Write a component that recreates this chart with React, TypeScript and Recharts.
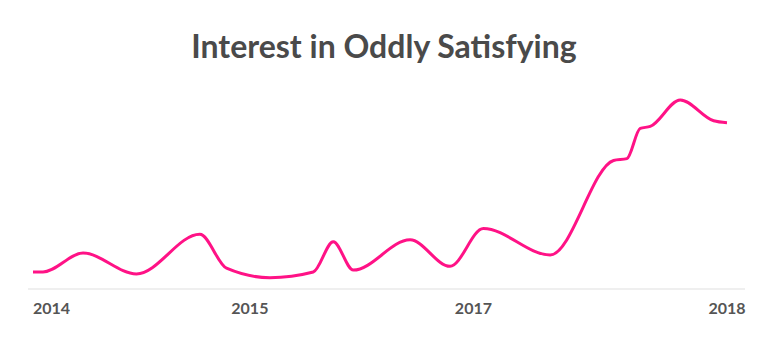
import React from "react";
import { LineChart, Line, XAxis, YAxis } from "recharts";

// week index since start of the series
const weeks = [0, 3, 15, 31, 50, 58, 71, 84, 90, 96, 113, 125, 135, 155, 174, 178, 182, 185, 194, 204, 208];
// search interest (0-100)
const interest = [9, 9, 19, 8, 29, 11, 6, 9, 25, 10, 26, 12, 32, 18, 68, 69, 85, 86, 100, 89, 88];

const tickWeeks = [0, 65, 132, 208];
const tickLabels = ["2014", "2015", "2017", "2018"];

const chartData = weeks.map((w, i) => ({ week: w, interest: interest[i] }));

const YearTick = (props: any) => {
  const { x, y, payload, index } = props;
  const label = tickLabels[tickWeeks.indexOf(payload.value)];
  return (
    <text
      x={x}
      y={y}
      dy="0.71em"
      textAnchor={index === 0 ? "start" : "middle"}
      fill="#555555"
      fontFamily="Lato"
      fontWeight={700}
      fontSize={16}
    >
      {label}
    </text>
  );
};

const App: React.FC = () => {
  return (
    <div
      style={{
        position: "absolute",
        left: 0,
        top: 0,
        width: 768,
        height: 357,
        background: "#ffffff",
      }}
    >
      <div
        style={{
          position: "absolute",
          left: 0,
          top: 24,
          width: 768,
          textAlign: "center",
          fontFamily: "Lato",
          fontWeight: 700,
          fontSize: 32,
          color: "#4a4a4a",
          lineHeight: "44px",
        }}
      >
        Interest in Oddly Satisfying
      </div>
      <LineChart
        width={768}
        height={357}
        data={chartData}
        margin={{ top: 100, right: 23, bottom: 38, left: 28 }}
      >
        <XAxis
          dataKey="week"
          type="number"
          domain={[0, 208]}
          ticks={tickWeeks}
          interval={0}
          padding={{ left: 5, right: 18 }}
          tick={<YearTick />}
          tickLine={false}
          tickMargin={8}
          axisLine={{ stroke: "#efefef", strokeWidth: 2 }}
        />
        <YAxis hide domain={[0, 100]} />
        <Line
          type="monotone"
          dataKey="interest"
          stroke="#ff1286"
          strokeWidth={3}
          dot={false}
          isAnimationActive={false}
        />
      </LineChart>
    </div>
  );
};

export default App;
